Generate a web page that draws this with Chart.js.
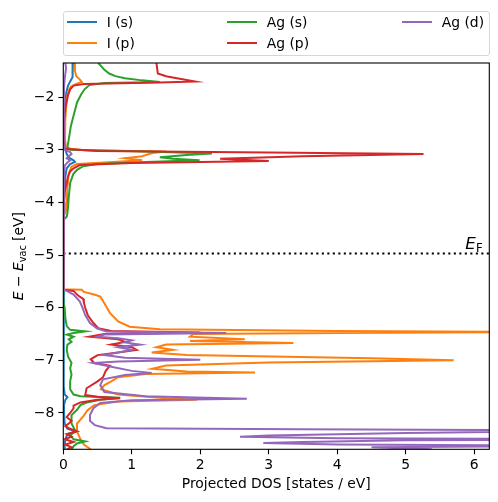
<!DOCTYPE html>
<html>
<head>
<meta charset="utf-8">
<script src="https://cdn.jsdelivr.net/npm/chart.js@4.4.1/dist/chart.umd.min.js"></script>
<style>
  html, body { margin: 0; padding: 0; background: #fff; }
  #wrap { position: relative; width: 498px; height: 502px; }
  #legend {
    position: absolute; left: 63px; top: 10.5px; width: 426.5px; height: 45.5px;
    box-sizing: border-box; border: 1px solid #d6d6d6; border-radius: 3px;
    background: rgba(255,255,255,0.8);
    font-family: 'DejaVu Sans', sans-serif; font-size: 13.9px; color: #000;
  }
  .item { position: absolute; height: 20px; line-height: 20px; white-space: nowrap; }
  .item .h { position: absolute; left: 0; top: 9px; width: 30px; height: 2px; }
  .item .t { position: absolute; left: 40px; top: 0; }
</style>
</head>
<body>
<div id="wrap">
  <canvas id="dosChart" width="498" height="502"></canvas>
  <div id="legend"></div>
</div>
<script>
// Energias (eV respecto al vacio) y DOS proyectada
const iSEnergy = [-1.35, -1.5, -1.62, -1.7, -1.78, -1.9, -2.1, -2.5, -2.9, -3.0, -3.08, -3.15, -3.2, -3.23, -3.27, -3.35, -3.5, -3.8, -4.1, -4.3, -4.4,
  -5.6, -5.7, -6.0, -6.5, -7.0, -7.5, -7.65, -7.7, -7.75, -7.85, -8.0, -8.2, -8.3, -8.35, -8.4, -8.5, -8.6, -8.69];
const iSDos = [0.14, 0.14, 0.13, 0.1, 0.07, 0.045, 0.03, 0.02, 0.02, 0.03, 0.05, 0.08, 0.15, 0.17, 0.1, 0.05, 0.03, 0.02, 0.01, 0.005, 0,
  0, 0.005, 0.01, 0.01, 0.01, 0.01, 0.02, 0.06, 0.03, 0.01, 0.01, 0.02, 0.06, 0.18, 0.06, 0.03, 0.02, 0.02];

const iPEnergy = [-1.35, -1.5, -1.6, -1.66, -1.71, -1.75, -1.8, -1.9, -2.05, -2.4, -2.8, -2.97, -3.01, -3.03, -3.06, -3.12, -3.16, -3.2, -3.24, -3.27,
  -3.32, -3.45, -3.7, -4.0, -4.15, -4.22, -4.26,
  -5.65, -5.66, -5.7, -5.75, -5.79, -5.85, -5.94, -6.1, -6.26, -6.36, -6.41, -6.44, -6.46, -6.48, -6.5, -6.55, -6.6, -6.63, -6.67, -6.7,
  -6.75, -6.8, -6.85, -6.9, -6.96, -7.0, -7.04, -7.1, -7.16, -7.21, -7.23, -7.26, -7.32, -7.4, -7.47, -7.55, -7.65, -7.72, -7.75, -7.78,
  -7.85, -7.95, -8.05, -8.2, -8.35, -8.5, -8.6, -8.69];
const iPDos = [0.17, 0.17, 0.19, 0.24, 0.27, 0.18, 0.11, 0.07, 0.05, 0.03, 0.025, 0.04, 0.3, 1.5, 1.3, 1.15, 0.9, 1.15, 0.6, 0.2,
  0.12, 0.08, 0.06, 0.05, 0.04, 0.02, 0,
  0, 0.27, 0.3, 0.45, 0.54, 0.57, 0.61, 0.68, 0.8, 0.97, 1.41, 4, 7, 4, 1.9, 1.85, 2.65, 1.85, 3.36, 1.5,
  1.36, 1.6, 1.29, 1.8, 4.5, 5.7, 3, 1.5, 1.3, 1.8, 2.8, 1.2, 0.8, 0.7, 0.6, 0.55, 0.8, 1.5, 1.95, 0.8,
  0.45, 0.35, 0.3, 0.2, 0.2, 0.25, 0.3, 0.4];

const agSEnergy = [-1.35, -1.42, -1.48, -1.55, -1.6, -1.64, -1.68, -1.71, -1.73, -1.77, -1.85, -1.95, -2.1, -2.3, -2.55, -2.8, -2.95, -3.0, -3.03,
  -3.07, -3.1, -3.14, -3.17, -3.2, -3.23, -3.27, -3.31, -3.38, -3.46, -3.63, -3.9, -4.08, -4.2, -4.27, -4.31, -4.34,
  -5.9, -6.0, -6.2, -6.35, -6.42, -6.45, -6.48, -6.51, -6.55, -6.6, -6.65, -6.7, -6.8, -6.93, -7.05, -7.15, -7.27, -7.4, -7.55, -7.65,
  -7.68, -7.71, -7.75, -7.8, -7.85, -7.94, -8.04, -8.2, -8.35, -8.42, -8.5, -8.54, -8.58, -8.63, -8.69];
const agSDos = [0.51, 0.56, 0.6, 0.67, 0.76, 0.9, 1.15, 1.41, 0.6, 0.38, 0.31, 0.26, 0.2, 0.16, 0.11, 0.08, 0.06, 0.1, 1.2,
  2.17, 1.8, 1.41, 1.6, 1.99, 1.2, 0.5, 0.29, 0.2, 0.146, 0.1, 0.08, 0.07, 0.06, 0.05, 0.02, 0,
  0, 0.02, 0.03, 0.05, 0.1, 0.32, 0.15, 0.05, 0.15, 0.08, 0.12, 0.06, 0.05, 0.07, 0.12, 0.1, 0.12, 0.1, 0.1, 0.15,
  0.25, 0.83, 0.54, 0.34, 0.25, 0.2, 0.12, 0.12, 0.18, 0.1, 0.15, 0.32, 0.2, 0.15, 0.12];

const agPEnergy = [-1.35, -1.55, -1.6, -1.65, -1.7, -1.72, -1.75, -1.78, -1.85, -1.96, -2.2, -2.47, -2.8, -2.98, -3.02, -3.05, -3.08, -3.12, -3.17,
  -3.21, -3.25, -3.29, -3.35, -3.41, -3.5, -3.63, -3.8, -3.95, -4.05, -4.1,
  -5.66, -5.68, -5.75, -5.79, -5.83, -5.9, -6.0, -6.15, -6.29, -6.39, -6.44, -6.47, -6.5, -6.55, -6.6, -6.65, -6.7, -6.75, -6.8, -6.85,
  -6.9, -6.98, -7.05, -7.1, -7.2, -7.32, -7.4, -7.53, -7.66, -7.69, -7.72, -7.75, -7.8, -7.86, -7.91, -8.0, -8.08, -8.15, -8.2, -8.25,
  -8.3, -8.35, -8.4, -8.45, -8.5, -8.55, -8.6, -8.65, -8.69];
const agPDos = [1.36, 1.38, 1.5, 1.7, 1.92, 1.4, 0.3, 0.15, 0.1, 0.07, 0.03, 0.01, 0.01, 0.02, 0.5, 3.0, 5.26, 3.5, 2.29,
  3.0, 1.0, 0.24, 0.15, 0.1, 0.07, 0.05, 0.02, 0.01, 0.005, 0,
  0, 0.15, 0.2, 0.24, 0.29, 0.3, 0.32, 0.36, 0.44, 0.51, 0.7, 2.0, 0.6, 0.38, 0.8, 0.9, 0.7, 1.0, 1.07, 0.8,
  0.5, 0.4, 0.45, 0.68, 0.62, 0.58, 0.5, 0.34, 0.32, 0.5, 0.83, 0.5, 0.25, 0.15, 0.15, 0.1, 0.05, 0.12, 0.08, 0.03,
  0.1, 0.2, 0.05, 0.12, 0.02, 0.15, 0.03, 0.12, 0.05];

const agDEnergy = [-1.35, -1.45, -1.55, -1.65, -1.8, -2.2, -2.9, -3.0, -3.04, -3.08, -3.12, -3.16, -3.2, -3.24, -3.3, -3.5, -4.0, -4.3,
  -5.66, -5.68, -5.75, -5.88, -6.0, -6.14, -6.29, -6.39, -6.45, -6.48, -6.51, -6.55, -6.58, -6.62, -6.66, -6.7, -6.75, -6.8, -6.85,
  -6.9, -6.95, -6.99, -7.02, -7.05, -7.12, -7.2, -7.24, -7.28, -7.36, -7.47, -7.6, -7.68, -7.73, -7.76, -7.81, -7.91, -8.04, -8.15,
  -8.23, -8.29, -8.31, -8.33, -8.38, -8.43, -8.45, -8.48, -8.5, -8.52, -8.55, -8.57, -8.6, -8.62, -8.65, -8.69];
const agDDos = [0.03, 0.04, 0.03, 0.02, 0.01, 0.005, 0.005, 0.02, 0.1, 0.12, 0.08, 0.05, 0.1, 0.06, 0.02, 0.01, 0.005, 0,
  0, 0.05, 0.15, 0.24, 0.28, 0.32, 0.39, 0.49, 0.63, 2.38, 0.6, 0.5, 0.8, 1.0, 0.9, 1.12, 0.8, 1.0, 0.8,
  0.6, 0.9, 2.0, 0.8, 0.44, 0.7, 1.0, 1.29, 0.9, 0.58, 0.54, 0.6, 1.2, 2.68, 1.0, 0.54, 0.44, 0.39, 0.39,
  0.46, 0.63, 3.5, 8, 5, 3, 2.58, 4, 8, 5, 3.5, 2.92, 4, 8, 4.5, 5.38];

const seriesNames = ['I (s)', 'I (p)', 'Ag (s)', 'Ag (p)', 'Ag (d)'];
const seriesColors = ['#1f77b4', '#ff7f0e', '#2ca02c', '#d62728', '#9467bd'];
const fermiLevel = -4.97;
const xTicks = [0, 1, 2, 3, 4, 5, 6];
const yTicks = [-8, -7, -6, -5, -4, -3, -2];

const energies = [iSEnergy, iPEnergy, agSEnergy, agPEnergy, agDEnergy];
const dosValues = [iSDos, iPDos, agSDos, agPDos, agDDos];

const FONT = "'DejaVu Sans', sans-serif";
const minus = v => String(v).replace('-', '\u2212');

// Leyenda en columnas (como matplotlib, ncol=3)
const legendEl = document.getElementById('legend');
const colX = [2.7, 162.7, 337.7];
const rowY = [0.5, 21.2];
seriesNames.forEach((name, i) => {
    const it = document.createElement('div');
    it.className = 'item';
    it.style.left = colX[Math.floor(i / 2)] + 'px';
    it.style.top = rowY[i % 2] + 'px';
    it.innerHTML = '<span class="h" style="background:' + seriesColors[i] + '"></span><span class="t">' + name + '</span>';
    legendEl.appendChild(it);
});

function drawRuns(ctx, runs, x, y) {
    let w = 0;
    runs.forEach(r => { ctx.font = r.font; w += ctx.measureText(r.text).width; });
    let cx = x - w / 2;
    runs.forEach(r => {
        ctx.font = r.font;
        ctx.fillText(r.text, cx, y + (r.dy || 0));
        cx += ctx.measureText(r.text).width;
    });
}

const extras = {
    id: 'extras',
    beforeDatasetsDraw(chart) {
        const {ctx, chartArea: a, scales} = chart;
        const yF = scales.y.getPixelForValue(fermiLevel);
        ctx.save();
        ctx.strokeStyle = '#000';
        ctx.lineWidth = 2;
        ctx.setLineDash([2.1, 3.4]);
        ctx.beginPath();
        ctx.moveTo(a.left, yF);
        ctx.lineTo(a.right, yF);
        ctx.stroke();
        ctx.restore();
    },
    afterDraw(chart) {
        const {ctx, chartArea: a, scales} = chart;
        ctx.save();
        ctx.strokeStyle = '#000';
        ctx.lineWidth = 1.1;
        ctx.strokeRect(a.left, a.top, a.right - a.left, a.bottom - a.top);

        ctx.fillStyle = '#000';
        ctx.textBaseline = 'alphabetic';
        const reg = '13.9px ' + FONT;
        const ita = 'italic 13.9px ' + FONT;
        const sub = '9.7px ' + FONT;
        // titulo eje x
        drawRuns(ctx, [{text: 'Projected DOS [states / eV]', font: reg}], (a.left + a.right) / 2, 488);
        // titulo eje y
        ctx.save();
        ctx.translate(23, (a.top + a.bottom) / 2);
        ctx.rotate(-Math.PI / 2);
        drawRuns(ctx, [
            {text: 'E', font: ita},
            {text: ' \u2212 ', font: reg},
            {text: 'E', font: ita},
            {text: 'vac', font: sub, dy: 3},
            {text: ' [eV]', font: reg}
        ], 0, 0);
        ctx.restore();
        // etiqueta E_F
        const yF = scales.y.getPixelForValue(fermiLevel);
        drawRuns(ctx, [
            {text: 'E', font: 'italic 16.7px ' + FONT},
            {text: 'F', font: '11.7px ' + FONT, dy: 3}
        ], 474, yF - 5);
        ctx.restore();
    }
};

const datasets = seriesNames.map((name, i) => ({
    label: name,
    data: energies[i].map((e, k) => ({x: dosValues[i][k], y: e})),
    showLine: true,
    borderColor: seriesColors[i],
    backgroundColor: seriesColors[i],
    borderWidth: 2,
    pointRadius: 0,
    order: seriesNames.length - i
}));

const ctx = document.getElementById('dosChart').getContext('2d');
const dosChart = new Chart(ctx, {
    type: 'scatter',
    data: { datasets: datasets },
    options: {
        responsive: false,
        animation: false,
        layout: { padding: { top: 63, right: 8.7, left: 0, bottom: 0 } },
        plugins: {
            legend: { display: false },
            tooltip: { enabled: false }
        },
        scales: {
            x: {
                type: 'linear',
                min: 0,
                max: 6.22,
                afterFit: s => { s.height = 52.7; },
                afterBuildTicks: s => { s.ticks = xTicks.map(v => ({value: v})); },
                grid: { display: true, drawOnChartArea: false, drawTicks: true, tickLength: 5, tickColor: '#000', tickWidth: 1.1 },
                border: { display: false },
                ticks: { color: '#000', font: { family: FONT, size: 13.9 }, padding: 3, maxRotation: 0,
                    callback: v => minus(v) }
            },
            y: {
                type: 'linear',
                min: -8.69,
                max: -1.35,
                afterFit: s => { s.width = 63.3; },
                afterBuildTicks: s => { s.ticks = yTicks.map(v => ({value: v})); },
                grid: { display: true, drawOnChartArea: false, drawTicks: true, tickLength: 5, tickColor: '#000', tickWidth: 1.1 },
                border: { display: false },
                ticks: { color: '#000', font: { family: FONT, size: 13.9 }, padding: 4,
                    callback: v => minus(v) }
            }
        }
    },
    plugins: [extras]
});
</script>
</body>
</html>
